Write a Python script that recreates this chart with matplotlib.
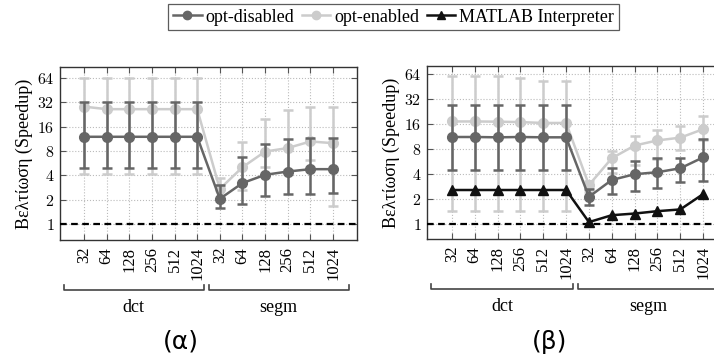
import numpy as np
import matplotlib
matplotlib.use("Agg")
import matplotlib.pyplot as plt
from matplotlib.lines import Line2D

plt.rcParams['font.family'] = ['Liberation Serif', 'DejaVu Serif']
plt.rcParams['mathtext.fontset'] = 'cm'

sizes = ['32', '64', '128', '256', '512', '1024']
tick_labels = sizes + sizes
groups = ['dct', 'segm']

# (a) opt-disabled / opt-enabled: value, lower, upper
a_dis = [12, 12, 12, 12, 12, 12, 2.04, 3.2, 4.05, 4.45, 4.76, 4.76]
a_dis_lo = [4.9, 4.9, 4.9, 4.9, 4.9, 4.9, 1.57, 1.77, 2.24, 2.35, 2.35, 2.4]
a_dis_hi = [32, 32, 32, 32, 32, 32, 3.0, 6.8, 9.8, 11.2, 11.5, 11.5]
a_en = [28.4, 26.4, 26.4, 26.4, 26.4, 26.4, 2.71, 5.03, 7.87, 8.7, 10.5, 10.0]
a_en_lo = [4.2, 4.2, 4.2, 4.2, 4.2, 4.2, 1.9, 2.64, 5.13, 4.6, 6.1, 1.67]
a_en_hi = [64, 64, 64, 64, 64, 64, 3.74, 10.3, 19.8, 25.8, 27.9, 28.4]

# (b) opt-disabled / opt-enabled / MATLAB interpreter
b_dis = [11.1, 11.1, 11.0, 11.1, 11.0, 11.0, 2.1, 3.36, 3.94, 4.17, 4.65, 6.3]
b_dis_lo = [4.44, 4.44, 4.44, 4.44, 4.44, 4.44, 1.67, 2.27, 2.49, 2.66, 3.15, 3.29]
b_dis_hi = [26.7, 26.7, 26.7, 26.7, 26.7, 26.7, 2.59, 4.65, 5.7, 6.15, 6.15, 10.5]
b_en = [17.1, 17.1, 17.0, 16.8, 16.4, 16.4, 2.92, 6.15, 8.75, 10.1, 10.9, 13.8]
b_en_lo = [1.41, 1.41, 1.41, 1.41, 1.41, 1.41, 2.4, 4.05, 5.1, 6.0, 7.8, 10.3]
b_en_hi = [61, 61, 61, 57, 52, 52, 3.3, 7.6, 11.5, 13.3, 14.9, 19.7]
b_mat = [2.54, 2.54, 2.54, 2.54, 2.54, 2.54, 1.04, 1.26, 1.32, 1.41, 1.48, 2.27]

c_dis = '#666666'
c_en = '#cccccc'
c_mat = '#111111'

fig = plt.figure(figsize=[7.14, 3.61], dpi=100)
ax1 = fig.add_axes([60/714, 121/361, 297/714, 173/361])
ax2 = fig.add_axes([427/714, 122/361, 299/714, 173/361])

x = np.arange(12)


def series(ax, y, lo, hi, color, z):
    y = np.array(y)
    err = [y - np.array(lo), np.array(hi) - y]
    ax.errorbar(x, y, yerr=err, color=color, lw=1.8, elinewidth=1.8,
                capsize=3.5, capthick=1.8, marker='o', ms=7, zorder=z)


def setup(ax, ylim, xlim):
    ax.set_yscale('log', base=2)
    ax.set_ylim(*ylim)
    ax.set_xlim(*xlim)
    yt = [1, 2, 4, 8, 16, 32, 64]
    ax.set_yticks(yt)
    ax.set_yticklabels(['$%d$' % v for v in yt], fontsize=11.5)
    ax.yaxis.set_minor_locator(matplotlib.ticker.NullLocator())
    ax.set_xticks(x)
    ax.set_xticklabels(tick_labels, rotation=90, fontsize=12)
    ax.tick_params(direction='in', top=True, right=True, length=4,
                   color='#555555', width=0.8)
    ax.tick_params(axis='x', pad=5)
    ax.tick_params(axis='y', pad=4)
    ax.grid(True, ls=':', color='#bbbbbb', lw=0.8)
    ax.set_axisbelow(True)
    for s in ax.spines.values():
        s.set_color('#333333')
        s.set_linewidth(1.0)
    ax.axhline(1, color='black', ls=(0, (3, 2)), lw=1.6, zorder=5)
    ax.set_ylabel('Βελτίωση (Speedup)', fontsize=13, labelpad=3)
    # group brackets below the tick labels
    tr = matplotlib.transforms.blended_transform_factory(ax.transData, ax.transAxes)
    for (a, b), name in zip([(-0.9, 5.3), (5.5, 11.7)], groups):
        ax.plot([a, a, b, b], [-0.26, -0.29, -0.29, -0.26], color='#444444',
                lw=1.2, transform=tr, clip_on=False)
        ax.text((a + b) / 2, -0.39, name, transform=tr, ha='center',
                va='center', fontsize=13)


series(ax1, a_en, a_en_lo, a_en_hi, c_en, 3)
series(ax1, a_dis, a_dis_lo, a_dis_hi, c_dis, 4)
setup(ax1, (0.63, 88), (-1.06, 12.06))

series(ax2, b_en, b_en_lo, b_en_hi, c_en, 3)
series(ax2, b_dis, b_dis_lo, b_dis_hi, c_dis, 4)
ax2.plot(x, b_mat, color=c_mat, lw=1.8, marker='^', ms=7, zorder=6)
setup(ax2, (0.65, 80), (-1.09, 12.0))

fig.text(181/714, 1 - 342/361, '(α)', ha='center', va='center',
         fontsize=18, family='DejaVu Sans')
fig.text(550/714, 1 - 342/361, '(β)', ha='center', va='center',
         fontsize=18, family='DejaVu Sans')

handles = [Line2D([], [], color=c_dis, lw=1.8, marker='o', ms=6),
           Line2D([], [], color=c_en, lw=1.8, marker='o', ms=6),
           Line2D([], [], color=c_mat, lw=1.8, marker='^', ms=6)]
leg = fig.legend(handles, ['opt-disabled', 'opt-enabled', 'MATLAB Interpreter'],
                 loc='upper center', bbox_to_anchor=(393.5/714, 1 - 4/361), ncol=3,
                 fontsize=13, frameon=True, fancybox=False, handlelength=1.6,
                 handletextpad=0.22, columnspacing=0.4, borderpad=0.25,
                 borderaxespad=0)
leg.get_frame().set_edgecolor('#333333')
leg.get_frame().set_linewidth(0.9)

fig.savefig('out.png', dpi=100)
